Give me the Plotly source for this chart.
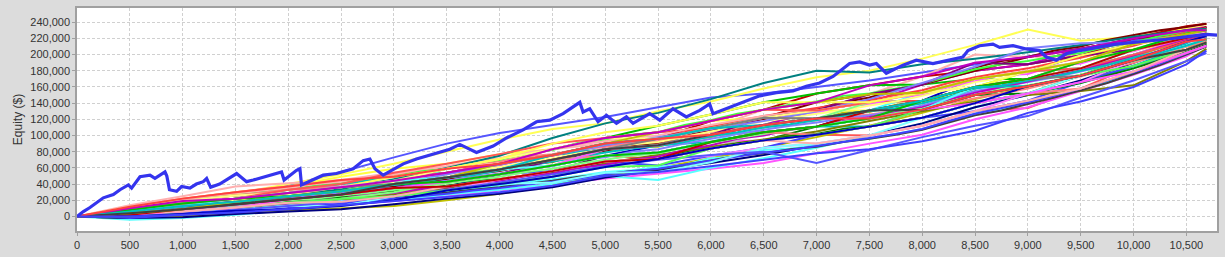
import plotly.graph_objects as go

K = 1000  # values below are in thousands of dollars

# trade-number checkpoints for the simulated equity curves (coarse set)
sim_x = [0, 500, 1000, 1500, 2000, 2500, 3000, 3500, 4000, 4500, 5000, 5500,
         6000, 6500, 7000, 7500, 8000, 8500, 9000, 9500, 10000, 10500, 10690]

sim_01 = [0, 8, 13, 18, 21, 31, 40, 54, 58, 63, 75, 71, 84, 94, 101, 100, 112, 130, 134, 158, 186, 206, 219]
sim_02 = [0, 5, 12, 22, 38, 55, 73, 90, 103, 113, 123, 135, 147, 152, 160, 168, 178, 188, 198, 208, 218, 228, 231]
sim_03 = [0, 4, 13, 22, 29, 40, 44, 54, 58, 70, 90, 96, 101, 113, 131, 141, 143, 160, 179, 183, 200, 221, 226]
sim_04 = [0, 8, 18, 28, 40, 52, 65, 80, 95, 108, 115, 130, 142, 158, 172, 180, 195, 212, 231, 217, 222, 232, 235]
sim_05 = [0, 0, 3, 6, 10, 14, 19, 25, 32, 40, 47, 53, 59, 66, 78, 90, 101, 120, 135, 155, 175, 198, 212]
sim_06 = [0, -4, -2, 2, 8, 14, 20, 27, 33, 40, 50, 45, 60, 72, 85, 100, 115, 135, 150, 165, 185, 205, 218]
sim_07 = [0, 14, 25, 37, 41, 45, 54, 59, 71, 83, 90, 96, 109, 132, 141, 151, 173, 200, 197, 199, 206, 226, 230]
sim_08 = [0, 0, 0, 7, 17, 22, 35, 43, 52, 70, 83, 88, 109, 122, 121, 131, 143, 150, 161, 174, 200, 216, 223]
sim_09 = [0, 6, 16, 22, 25, 31, 35, 48, 58, 76, 90, 96, 118, 132, 152, 162, 173, 180, 188, 199, 220, 235, 238]
sim_10 = [0, 2, 6, 15, 21, 22, 30, 37, 52, 63, 75, 88, 101, 104, 111, 131, 143, 170, 179, 199, 213, 226, 234]
sim_11 = [0, 6, 9, 15, 25, 36, 44, 59, 71, 83, 97, 112, 126, 141, 152, 162, 163, 170, 170, 183, 193, 211, 219]
sim_12 = [0, -1, 1, 4, 7, 10, 13, 20, 28, 38, 50, 60, 72, 85, 98, 112, 128, 145, 160, 175, 192, 210, 218]
sim_13 = [0, 4, 9, 11, 17, 27, 40, 48, 65, 76, 83, 88, 101, 113, 131, 141, 163, 180, 188, 207, 220, 230, 234]
sim_14 = [0, 8, 16, 22, 33, 40, 49, 54, 65, 76, 83, 88, 92, 104, 111, 111, 122, 140, 152, 166, 186, 211, 219]
sim_15 = [0, -2, 3, 7, 13, 18, 30, 37, 46, 56, 75, 79, 92, 104, 111, 131, 143, 160, 170, 191, 206, 221, 226]
sim_16 = [0, 10, 19, 26, 29, 36, 44, 54, 65, 83, 97, 104, 109, 122, 131, 141, 143, 160, 170, 183, 193, 211, 215]
sim_17 = [0, 2, 9, 15, 21, 31, 35, 43, 52, 56, 68, 63, 75, 85, 101, 111, 122, 130, 143, 166, 186, 202, 211]
sim_18 = [0, 6, 13, 18, 25, 31, 44, 54, 65, 76, 90, 88, 101, 104, 111, 121, 132, 150, 161, 174, 200, 216, 223]
sim_19 = [0, 10, 22, 30, 37, 49, 59, 65, 77, 83, 97, 104, 118, 122, 131, 131, 143, 160, 179, 191, 206, 216, 223]
sim_20 = [0, 8, 16, 22, 29, 31, 40, 48, 58, 63, 75, 79, 92, 94, 101, 111, 132, 150, 170, 183, 200, 221, 230]
sim_21 = [0, 4, 9, 15, 17, 27, 35, 48, 58, 70, 75, 79, 92, 113, 121, 131, 153, 170, 179, 183, 200, 216, 223]
sim_22 = [0, 6, 9, 11, 17, 22, 30, 37, 40, 49, 68, 71, 84, 104, 111, 121, 132, 160, 170, 191, 206, 221, 226]
sim_23 = [0, 4, 13, 18, 29, 36, 44, 48, 58, 70, 83, 96, 109, 122, 141, 151, 163, 180, 197, 207, 220, 226, 234]
sim_24 = [0, -2, -1, 3, 6, 9, 15, 22, 28, 36, 48, 57, 66, 76, 88, 100, 115, 135, 150, 168, 190, 212, 222]
sim_25 = [0, 2, 6, 11, 21, 27, 35, 43, 46, 56, 68, 71, 84, 94, 111, 121, 132, 150, 152, 174, 193, 206, 215]
sim_26 = [0, 2, 5, 9, 14, 20, 27, 35, 45, 55, 66, 76, 86, 95, 105, 118, 130, 142, 150, 155, 162, 192, 207]
sim_27 = [0, 6, 13, 18, 25, 27, 35, 43, 52, 70, 83, 88, 101, 122, 131, 151, 163, 190, 188, 199, 206, 221, 226]
sim_28 = [0, 3, 9, 16, 24, 34, 46, 60, 75, 97, 115, 128, 145, 165, 180, 178, 188, 195, 203, 212, 222, 230, 232]
sim_29 = [0, 8, 19, 26, 33, 36, 44, 48, 58, 70, 75, 79, 92, 104, 101, 111, 122, 140, 152, 158, 179, 202, 211]
sim_30 = [0, 3, 8, 14, 22, 30, 40, 52, 64, 76, 88, 98, 108, 118, 130, 145, 165, 185, 208, 214, 215, 225, 230]
sim_31 = [0, 2, 3, 7, 13, 22, 30, 43, 52, 63, 83, 88, 101, 113, 121, 141, 153, 170, 179, 191, 213, 226, 230]
sim_32 = [0, 12, 19, 26, 29, 36, 44, 59, 71, 83, 97, 96, 109, 122, 131, 141, 153, 160, 170, 183, 206, 221, 226]
sim_33 = [0, 0, 3, 7, 13, 18, 25, 32, 46, 56, 68, 71, 75, 85, 90, 100, 112, 130, 152, 166, 193, 211, 223]
sim_34 = [0, 2, 6, 7, 13, 13, 25, 32, 40, 42, 54, 55, 67, 85, 90, 100, 122, 140, 152, 174, 193, 211, 223]
sim_35 = [0, 6, 16, 22, 33, 40, 54, 65, 77, 90, 97, 104, 118, 132, 131, 141, 153, 170, 179, 183, 200, 216, 223]
sim_36 = [0, 1, 4, 8, 13, 18, 25, 33, 42, 52, 62, 70, 76, 80, 66, 82, 98, 112, 124, 147, 168, 192, 202]
sim_37 = [0, 0, 6, 11, 17, 22, 25, 32, 40, 49, 61, 63, 84, 94, 101, 111, 132, 150, 161, 174, 186, 206, 215]
sim_38 = [0, 8, 16, 22, 29, 36, 49, 59, 71, 90, 104, 112, 126, 141, 141, 141, 153, 170, 179, 199, 213, 221, 226]
sim_39 = [0, 2, 6, 11, 21, 27, 35, 43, 52, 63, 83, 88, 101, 113, 121, 121, 132, 140, 152, 166, 179, 202, 211]
sim_40 = [0, 6, 13, 22, 29, 36, 44, 48, 58, 63, 75, 79, 92, 104, 111, 121, 132, 160, 170, 183, 206, 226, 230]
sim_41 = [0, 4, 6, 11, 17, 18, 25, 37, 46, 56, 68, 71, 84, 94, 90, 100, 112, 130, 143, 158, 179, 206, 215]
sim_42 = [0, 10, 16, 22, 29, 36, 40, 48, 58, 70, 83, 96, 109, 122, 121, 131, 143, 160, 170, 174, 193, 216, 223]
sim_43 = [0, 2, 9, 15, 21, 27, 35, 37, 46, 56, 68, 71, 92, 104, 111, 131, 143, 160, 170, 183, 206, 221, 226]
sim_44 = [0, 0, 3, 7, 9, 13, 20, 32, 40, 49, 61, 71, 84, 94, 101, 111, 122, 140, 161, 174, 193, 216, 223]
sim_45 = [0, 8, 16, 22, 25, 31, 40, 43, 52, 63, 75, 79, 92, 104, 111, 121, 143, 160, 170, 191, 206, 226, 230]
sim_46 = [0, 4, 9, 18, 25, 31, 40, 48, 65, 76, 90, 104, 118, 132, 141, 151, 153, 170, 179, 191, 213, 226, 230]
sim_47 = [0, 10, 19, 22, 29, 36, 44, 54, 65, 83, 97, 104, 118, 132, 141, 162, 173, 190, 197, 207, 220, 230, 230]
sim_48 = [0, 6, 13, 18, 25, 31, 40, 48, 58, 76, 90, 96, 109, 113, 121, 131, 143, 160, 161, 174, 193, 211, 219]
sim_49 = [0, 4, 9, 15, 21, 27, 40, 48, 58, 70, 83, 88, 101, 113, 121, 131, 132, 150, 161, 174, 193, 206, 215]
sim_50 = [0, 12, 22, 30, 37, 45, 49, 59, 65, 76, 90, 96, 101, 113, 121, 121, 132, 150, 161, 174, 193, 216, 219]
sim_51 = [0, 0, 2, 5, 9, 14, 19, 24, 30, 38, 50, 55, 62, 70, 78, 83, 93, 106, 128, 142, 160, 188, 205]

# finer checkpoints for a second batch of simulated curves
fine_x = list(range(0, 10501, 250)) + [10690]

fine_01 = [0, 3, 8, 11, 17, 20, 22, 27, 29, 35, 37, 42, 44, 51, 53, 61, 63, 72, 75, 83, 86, 92, 93, 103, 108, 118, 119, 126, 128, 137, 138, 147, 150, 160, 167, 175, 176, 186, 189, 199, 204, 214, 219, 226]
fine_02 = [0, 0, 1, 3, 5, 6, 9, 11, 14, 15, 19, 20, 25, 26, 31, 34, 38, 42, 46, 50, 55, 57, 61, 64, 72, 74, 82, 84, 88, 93, 96, 102, 108, 117, 128, 132, 142, 148, 158, 167, 178, 190, 204, 214]
fine_03 = [0, 2, 5, 10, 11, 16, 17, 22, 24, 29, 30, 36, 38, 45, 47, 54, 57, 65, 67, 77, 80, 86, 86, 95, 98, 108, 110, 118, 119, 128, 129, 138, 140, 151, 158, 166, 168, 177, 180, 191, 197, 208, 214, 222]
fine_04 = [0, 2, 4, 7, 10, 13, 15, 19, 22, 26, 29, 33, 37, 42, 46, 52, 56, 63, 68, 76, 81, 88, 91, 99, 106, 115, 120, 128, 133, 141, 147, 156, 164, 174, 184, 192, 197, 205, 210, 218, 224, 230, 234, 238]
fine_05 = [0, 1, 3, 5, 8, 10, 13, 15, 19, 20, 24, 27, 31, 34, 38, 42, 45, 51, 54, 61, 64, 70, 71, 79, 84, 90, 94, 99, 102, 108, 111, 117, 122, 131, 140, 146, 152, 158, 165, 174, 183, 193, 205, 213]
fine_06 = [0, 6, 12, 17, 22, 26, 30, 34, 37, 41, 44, 48, 51, 56, 59, 65, 68, 74, 77, 83, 86, 91, 93, 99, 104, 110, 113, 117, 119, 124, 126, 130, 133, 140, 146, 152, 158, 166, 173, 182, 190, 200, 210, 217]
fine_07 = [0, 1, 4, 6, 10, 12, 15, 19, 21, 26, 28, 33, 35, 40, 44, 49, 53, 59, 62, 70, 73, 80, 83, 90, 96, 102, 107, 112, 116, 121, 125, 130, 137, 146, 155, 160, 166, 172, 179, 187, 196, 205, 214, 221]
fine_08 = [0, 4, 9, 14, 18, 23, 26, 30, 33, 38, 41, 47, 49, 56, 59, 66, 70, 78, 82, 91, 95, 101, 104, 113, 119, 127, 132, 138, 142, 149, 152, 158, 164, 173, 182, 188, 192, 198, 202, 210, 215, 223, 227, 232]
fine_09 = [0, -1, 0, 1, 3, 5, 7, 10, 12, 14, 17, 20, 23, 26, 30, 33, 36, 40, 44, 49, 52, 56, 58, 64, 69, 75, 78, 83, 86, 92, 96, 101, 107, 116, 125, 131, 139, 147, 156, 165, 176, 187, 200, 210]
fine_10 = [0, 3, 6, 10, 14, 18, 20, 24, 28, 31, 35, 38, 43, 47, 52, 57, 61, 67, 72, 78, 83, 89, 92, 98, 105, 111, 118, 122, 127, 131, 137, 142, 149, 157, 166, 171, 179, 184, 192, 199, 207, 215, 222, 228]
fine_11 = [0, 0, 2, 3, 5, 8, 10, 14, 16, 20, 22, 27, 29, 34, 36, 42, 44, 50, 53, 60, 64, 70, 74, 82, 88, 96, 100, 107, 111, 118, 123, 129, 135, 144, 153, 160, 167, 174, 181, 190, 199, 209, 218, 225]
fine_12 = [0, 3, 5, 9, 12, 15, 18, 20, 25, 27, 32, 34, 39, 42, 48, 51, 57, 62, 68, 73, 79, 84, 87, 92, 99, 104, 110, 114, 119, 124, 130, 134, 140, 148, 158, 162, 168, 173, 180, 187, 196, 204, 213, 220]
fine_13 = [0, 2, 7, 10, 15, 18, 22, 25, 29, 32, 36, 40, 44, 50, 54, 60, 64, 71, 75, 83, 88, 94, 97, 104, 111, 118, 124, 129, 134, 139, 144, 150, 156, 165, 172, 178, 183, 190, 196, 204, 211, 220, 227, 233]
fine_14 = [0, 0, -2, 0, 2, 4, 6, 9, 11, 14, 16, 19, 22, 25, 28, 32, 35, 39, 43, 47, 52, 56, 59, 64, 69, 74, 79, 82, 87, 92, 97, 102, 108, 118, 127, 134, 141, 149, 158, 168, 178, 189, 201, 211]
fine_15 = [0, 1, 3, 6, 8, 11, 13, 16, 20, 22, 26, 29, 33, 37, 41, 45, 49, 55, 59, 65, 70, 75, 78, 85, 91, 97, 102, 107, 111, 117, 121, 128, 133, 142, 150, 157, 162, 168, 175, 183, 192, 201, 211, 219]
fine_16 = [0, 5, 11, 16, 21, 25, 29, 32, 35, 40, 43, 49, 52, 58, 62, 68, 72, 79, 83, 89, 93, 97, 100, 107, 113, 119, 124, 128, 131, 137, 141, 147, 152, 161, 170, 175, 180, 186, 191, 198, 205, 214, 222, 229]

# the actual (original-order) equity curve
actual_x = [0, 60, 123, 249, 344, 407, 486, 517, 596, 691, 738, 833, 850, 875, 943, 990, 1069, 1130, 1195, 1227,
            1265, 1350, 1511, 1605, 1668, 1826, 1936, 1960, 2078, 2110, 2125, 2330, 2456, 2614, 2709, 2772, 2820, 2898, 3088, 3213,
            3529, 3623, 3781, 3939, 4065, 4222, 4349, 4475, 4601, 4759, 4790, 4853, 4932, 5011, 5106, 5200, 5263, 5421, 5516, 5641,
            5767, 5894, 5988, 6020, 6178, 6336, 6462, 6620, 6777, 6903, 7029, 7156, 7313, 7408, 7502, 7566, 7660, 7818, 7944, 8101,
            8259, 8385, 8433, 8543, 8669, 8732, 8859, 8985, 9110, 9174, 9268, 9363, 9489, 9678, 9836, 9994, 10183, 10309, 10435, 10561,
            10687, 10790]
actual_y = [0, 6, 11, 23, 27, 33, 39, 35, 49, 51, 47, 55, 50, 33, 31, 37, 35, 40, 43, 47,
            36, 40, 53, 43, 45, 51, 55, 45, 57, 59, 39, 51, 53, 59, 69, 71, 59, 51, 65, 71,
            83, 89, 79, 87, 97, 107, 117, 119, 127, 141, 129, 133, 117, 125, 115, 123, 115, 127, 119, 133,
            123, 131, 139, 127, 135, 143, 149, 153, 155, 161, 165, 173, 189, 191, 187, 189, 177, 187, 193, 189,
            193, 197, 205, 211, 213, 209, 211, 207, 205, 197, 193, 201, 205, 209, 213, 215, 217, 219, 221, 223,
            225, 224]

y_ticks = list(range(0, 240001, 20000))
x_ticks = list(range(0, 10501, 500))

sims = [sim_01, sim_02, sim_03, sim_04, sim_05, sim_06, sim_07, sim_08, sim_09, sim_10,
        sim_11, sim_12, sim_13, sim_14, sim_15, sim_16, sim_17, sim_18, sim_19, sim_20,
        sim_21, sim_22, sim_23, sim_24, sim_25, sim_26, sim_27, sim_28, sim_29, sim_30,
        sim_31, sim_32, sim_33, sim_34, sim_35, sim_36, sim_37, sim_38, sim_39, sim_40,
        sim_41, sim_42, sim_43, sim_44, sim_45, sim_46, sim_47, sim_48, sim_49, sim_50, sim_51]
fines = [fine_01, fine_02, fine_03, fine_04, fine_05, fine_06, fine_07, fine_08,
         fine_09, fine_10, fine_11, fine_12, fine_13, fine_14, fine_15, fine_16]

palette = ["#FF5555", "#5555FF", "#55FF55", "#FFFF55", "#FF55FF", "#55FFFF", "#FFAFAF", "#808080",
           "#C00000", "#0000C0", "#00C000", "#C0C000", "#C000C0", "#00C0C0", "#404040", "#FF4040",
           "#4040FF", "#40FF40", "#FFFF40", "#FF40FF", "#40FFFF", "#C0C0C0", "#800000", "#000080",
           "#008000", "#808000", "#800080", "#008080", "#FF8080", "#8080FF", "#80FF80", "#FFFF80",
           "#FF80FF", "#80FFFF"]
fine_colors = ["#FF55FF", "#55FFFF", "#C0C000", "#800000", "#008000", "#FF8080", "#8080FF", "#40FF40",
               "#404040", "#FFFF80", "#C000C0", "#00C0C0", "#FF4040", "#4040FF", "#80FF80", "#FFAFAF"]

fig = go.Figure()
for i, s in enumerate(sims):
    fig.add_trace(go.Scatter(
        x=sim_x, y=[v * K for v in s], mode="lines",
        line=dict(color=palette[i % len(palette)], width=2),
        hoverinfo="skip", showlegend=False))
    if i == 25:
        for j, f in enumerate(fines):
            fig.add_trace(go.Scatter(
                x=fine_x, y=[v * K for v in f], mode="lines",
                line=dict(color=fine_colors[j], width=2),
                hoverinfo="skip", showlegend=False))

fig.add_trace(go.Scatter(
    x=actual_x, y=[v * K for v in actual_y], mode="lines",
    line=dict(color="#3434EE", width=3.2),
    hoverinfo="skip", showlegend=False))

tick_font = dict(family="Liberation Sans, Arial, sans-serif", size=11, color="#333333")
axis_common = dict(
    showgrid=True, gridcolor="#D0D0D0", gridwidth=1, griddash="3px,2px",
    showline=True, linecolor="#A0A0A0", linewidth=1.5, mirror=True,
    ticks="outside", ticklen=3, tickcolor="#A0A0A0", tickwidth=1,
    zeroline=False, tickfont=tick_font, tickformat=",d",
)

fig.update_layout(
    width=1225, height=257,
    margin=dict(l=77, r=8, t=6, b=21),
    paper_bgcolor="#DCDCDC", plot_bgcolor="#FFFFFF",
    showlegend=False,
    xaxis=dict(range=[0, 10790], tickvals=x_ticks, **axis_common),
    yaxis=dict(range=[-18000, 257600], tickvals=y_ticks,
               title=dict(text="Equity ($)", standoff=5,
                          font=dict(family="Liberation Sans, Arial, sans-serif", size=12, color="#333333")),
               **axis_common),
)

fig.write_html("out.html")
